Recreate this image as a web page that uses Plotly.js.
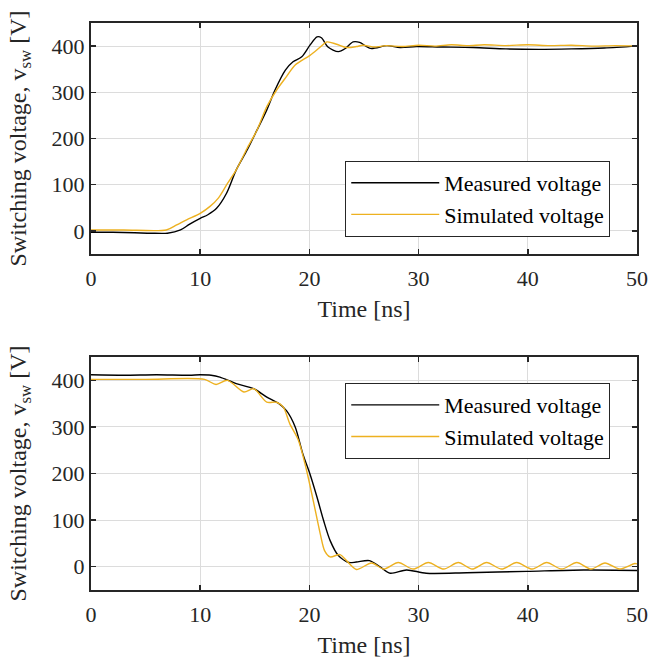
<!DOCTYPE html>
<html>
<head>
<meta charset="utf-8">
<script src="https://cdn.plot.ly/plotly-3.0.1.min.js"></script>
<style>html,body{margin:0;padding:0;background:#fff;}#chart{width:650px;height:660px;}</style>
</head>
<body>
<div id="chart"></div>
<script>
// Turn-on (top panel)
const onMeasT = [0, 2, 4, 5.5, 7, 8.2, 9, 10, 10.7, 11.5, 12.4, 13.3, 14.3, 15.2, 16.1, 16.85, 17.8, 18.5, 19.3, 20.05, 20.7, 21.1, 21.7, 22.65, 23.3, 24.0, 24.6, 25.6, 27.1, 28.3, 29.8, 32, 35, 38, 41, 44, 47, 50];
const onMeasV = [-3, -3, -4, -5, -5, 2, 14, 27, 35, 49, 81, 132, 175, 218, 262, 305, 348, 366, 377, 402, 420, 418, 398, 388, 395, 409, 408, 395, 401, 397, 399, 398, 397, 394, 393, 394, 396, 400];
const onSimT = [0, 3, 6.9, 7.85, 8.76, 10, 10.9, 11.66, 12.4, 13.3, 14.3, 15.2, 16.1, 17.0, 17.9, 18.7, 20.05, 21.0, 21.6, 22.5, 23.4, 24.3, 24.9, 26, 27, 28.5, 30, 31.5, 33, 34.5, 36, 38, 40, 42, 44, 46, 48, 50];
const onSimV = [2, 2, 2, 13, 24, 38, 53, 71, 99, 132, 179, 218, 269, 305, 334, 359, 380, 398, 409, 404, 397, 399, 402, 398, 401, 399, 402, 400, 403, 401, 403, 401, 403, 401, 402, 400, 401, 400];
// Turn-off (bottom panel)
const offMeasT = [0, 3, 6, 9, 10, 11, 11.8, 13.3, 14.9, 16.1, 17.15, 17.9, 18.7, 19.4, 20.05, 20.7, 21.3, 21.9, 22.65, 23.6, 24.3, 25.5, 26.5, 27.4, 28.9, 30.7, 34.4, 39.9, 45.1, 50];
const offMeasV = [412, 411, 412, 411, 412, 411, 407, 393, 382, 364, 351, 335, 300, 242, 199, 149, 99, 56, 24, 9, 10, 13, -1, -14, -7, -14, -13, -10, -7, -8];
const offSimT = [0, 5, 10.4, 11.45, 12.5, 14.0, 14.9, 16.1, 17.0, 17.6, 18.2, 19.0, 19.75, 20.35, 21.0, 21.4, 21.9, 22.8, 23.4, 24.3, 25.7, 26.8, 28.14, 29.5, 30.89, 32.3, 33.64, 34.9, 36.23, 37.6, 38.98, 40.4, 41.73, 43.1, 44.48, 45.8, 47.07, 48.4, 49.8, 50];
const offSimV = [402, 402, 402, 391, 400, 375, 382, 353, 353, 343, 307, 271, 206, 142, 70, 34, 21, 26, 13, -6, 8, -5, 9, -5, 9, -5, 9, -5, 9, -5, 9, -5, 9, -5, 9, -5, 8, -5, 7, 6];

const xTicks = [0, 10, 20, 30, 40, 50];
const yTicks = [0, 100, 200, 300, 400];
const nameMeas = 'Measured voltage';
const nameSim = 'Simulated voltage';

const black = '#000000';
const orange = '#EDB120';
const font = 'Liberation Serif, Times New Roman, serif';

const traces = [
  {x: onMeasT, y: onMeasV, name: nameMeas, xaxis: 'x', yaxis: 'y', legend: 'legend',
   mode: 'lines', line: {color: black, width: 1.4, shape: 'spline', smoothing: 0.8}},
  {x: onSimT, y: onSimV, name: nameSim, xaxis: 'x', yaxis: 'y', legend: 'legend',
   mode: 'lines', line: {color: orange, width: 1.4, shape: 'spline', smoothing: 0.8}},
  {x: offMeasT, y: offMeasV, name: nameMeas, xaxis: 'x2', yaxis: 'y2', legend: 'legend2',
   mode: 'lines', line: {color: black, width: 1.4, shape: 'spline', smoothing: 0.8}},
  {x: offSimT, y: offSimV, name: nameSim, xaxis: 'x2', yaxis: 'y2', legend: 'legend2',
   mode: 'lines', line: {color: orange, width: 1.4, shape: 'spline', smoothing: 0.8}}
];

function xa(anchor) {
  return {
    range: [0, 50], tickvals: xTicks, ticktext: xTicks.map(String), anchor: anchor,
    showline: true, linecolor: '#262626', linewidth: 2, mirror: 'allticks',
    ticks: 'inside', ticklen: 5, tickwidth: 1.5, tickcolor: '#262626',
    showgrid: true, gridcolor: '#dcdcdc', gridwidth: 1, zeroline: false,
    ticklabelstandoff: 4,
    tickfont: {family: font, size: 22, color: '#262626'},
    title: {text: 'Time [ns]', font: {family: font, size: 24, color: '#262626'}, standoff: 10}
  };
}
function ya(anchor, domain) {
  return {
    range: [-50, 450], tickvals: yTicks, ticktext: yTicks.map(String), anchor: anchor, domain: domain,
    showline: true, linecolor: '#262626', linewidth: 2, mirror: 'allticks',
    ticks: 'inside', ticklen: 5, tickwidth: 1.5, tickcolor: '#262626',
    showgrid: true, gridcolor: '#dcdcdc', gridwidth: 1, zeroline: false,
    tickfont: {family: font, size: 22, color: '#262626'},
    title: {text: 'Switching voltage, v<sub>sw</sub> [V]', font: {family: font, size: 24, color: '#262626'}, standoff: 18}
  };
}

const legendBase = {
  xref: 'paper', yref: 'paper', xanchor: 'right', yanchor: 'top',
  bgcolor: '#ffffff', bordercolor: '#262626', borderwidth: 1,
  font: {family: font, size: 22, color: '#000'}, itemwidth: 88, tracegroupgap: 0
};

const layout = {
  width: 650, height: 660,
  margin: {l: 91, r: 13, t: 23, b: 70},
  paper_bgcolor: '#ffffff', plot_bgcolor: '#ffffff',
  showlegend: true,
  xaxis: xa('y'),
  yaxis: ya('x', [0.5926, 1]),
  xaxis2: xa('y2'),
  yaxis2: ya('x2', [0, 0.4109]),
  legend: Object.assign({}, legendBase, {x: 0.951, y: 0.7566}),
  legend2: Object.assign({}, legendBase, {x: 0.951, y: 0.365})
};

Plotly.newPlot('chart', traces, layout, {displayModeBar: false, staticPlot: true});
</script>
</body>
</html>
